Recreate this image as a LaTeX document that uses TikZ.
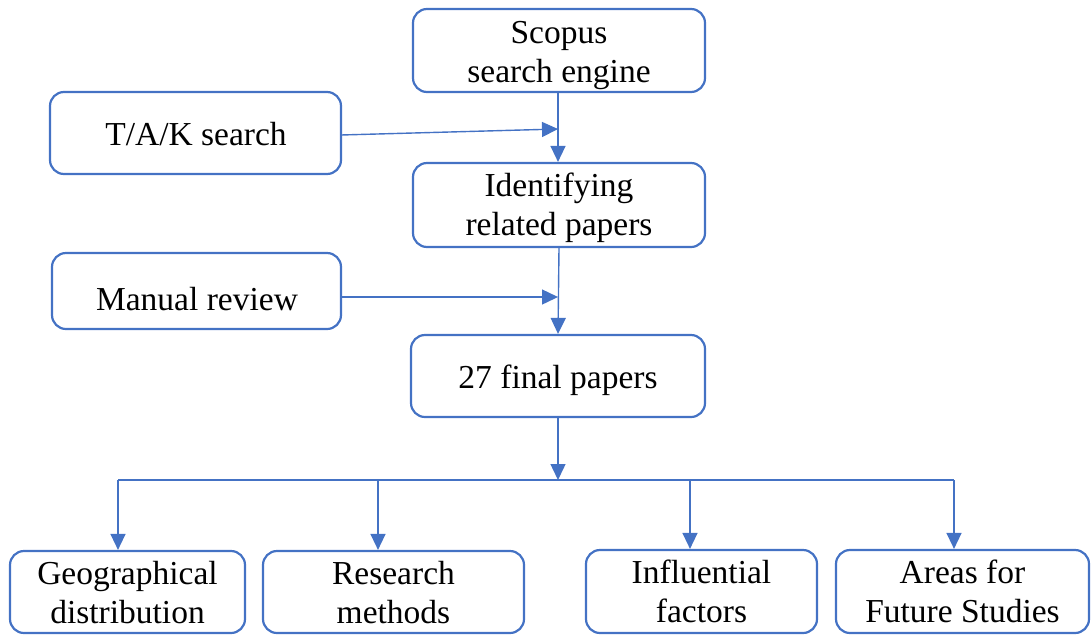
\documentclass[tikz,border=0pt]{standalone}
\usepackage{fontspec}
\setmainfont{Liberation Serif}
\usetikzlibrary{arrows.meta}
\definecolor{blu}{HTML}{4472C4}
\begin{document}
\begin{tikzpicture}[x=1pt,y=-1pt,
  box/.style={draw=blu,line width=2.2pt,rounded corners=14pt,inner sep=0pt},
  txt/.style={align=center,inner sep=0pt,anchor=north,font=\fontsize{33.5}{39}\selectfont},
  conn/.style={draw=blu,line width=1.4pt,-{Triangle[length=16pt,width=15pt]}},
  line/.style={draw=blu,line width=1.4pt}]
\useasboundingbox (0,0) rectangle (1091,635);
% boxes
\node[box,minimum width=292pt,minimum height=83pt] (scopus) at (559,50.5) {};
\node[box,minimum width=291pt,minimum height=82pt] (tak) at (195.5,133) {};
\node[box,minimum width=292pt,minimum height=84pt] (ident) at (559,205) {};
\node[box,minimum width=289pt,minimum height=76pt] (manual) at (196.5,291) {};
\node[box,minimum width=294pt,minimum height=82pt] (final) at (558,376) {};
\node[box,minimum width=235pt,minimum height=82pt] (geo) at (127.5,592) {};
\node[box,minimum width=261pt,minimum height=82pt] (res) at (393.5,592) {};
\node[box,minimum width=231pt,minimum height=83pt] (inf) at (701.5,591.5) {};
\node[box,minimum width=253pt,minimum height=83pt] (area) at (962.5,591.5) {};
% texts
\node[txt] (scopus-t) at (559,15.7) {\strut Scopus\\\strut search engine};
\node[txt] (tak-t) at (196,117.7) {\strut T/A/K search};
\node[txt] (ident-t) at (559,169.2) {\strut Identifying\\\strut related papers};
\node[txt] (manual-t) at (197,282.7) {\strut Manual review};
\node[txt] (final-t) at (558,360.7) {\strut 27 final papers};
\node[txt] (geo-t) at (127.5,556.5) {\strut Geographical\\\strut distribution};
\node[txt] (res-t) at (393.5,556.5) {\strut Research\\\strut methods};
\node[txt] (inf-t) at (701.5,556) {\strut Influential\\\strut factors};
\node[txt] (area-t) at (962.5,556) {\strut Areas for\\\strut Future Studies};
% connectors
\coordinate (j1) at (558,129);
\coordinate (t1) at (341,135);
\coordinate (j2) at (558,297);
\coordinate (bus) at (558,480);
\coordinate (bl) at (118,480);
\coordinate (bm1) at (378,480);
\coordinate (bm2) at (690,480);
\coordinate (br) at (954,480);
\draw[conn] (scopus.south -| j1) -- (ident.north -| j1);
\draw[conn] (t1) -- (j1);
\draw[conn] (ident.south) -- (final.north -| j2);
\draw[conn] (manual.east |- j2) -- (j2);
\draw[conn] (final.south -| bus) -- (bus);
\draw[line] (bl) -- (br);
\draw[conn] (bl) -- (bl |- geo.north);
\draw[conn] (bm1) -- (bm1 |- res.north);
\draw[conn] (bm2) -- (bm2 |- inf.north);
\draw[conn] (br) -- (br |- area.north);
\end{tikzpicture}
\end{document}
